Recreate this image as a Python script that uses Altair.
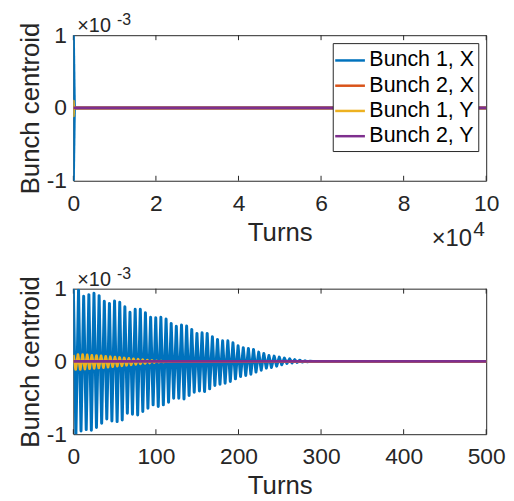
import altair as alt
import pandas as pd

# ---------------- data (centroid values in units of 1e-3) ----------------
series_names = ["Bunch 1, X", "Bunch 2, X", "Bunch 1, Y", "Bunch 2, Y"]
series_colors = ["#0072BD", "#D95319", "#EDB120", "#7E2F8E"]
series_widths = [3.0, 3.1, 2.7, 2.8]

# Bunch 1, X : oscillation extrema
b1x_peak_turns = [0, 6.3, 12.5, 18.8, 25.0, 31.2, 37.5, 43.7, 49.9, 56.2,
                  62.4, 68.6, 74.9, 81.1, 87.3, 93.6, 99.8, 106.0, 112.3, 118.5,
                  124.7, 131.0, 137.2, 143.4, 149.7, 155.9, 162.1, 168.4, 174.6, 180.8,
                  187.1, 193.3, 199.5, 205.8, 212.0, 218.2, 224.5, 230.7, 236.9, 243.2,
                  249.4, 255.6, 261.9, 268.1, 274.3, 280.6, 286.8]
b1x_peak_vals = [1.000, 0.982, 0.895, 0.918, 0.936, 0.904, 0.826, 0.798, 0.831, 0.812,
                 0.752, 0.675, 0.716, 0.716, 0.670, 0.606, 0.601, 0.606, 0.583, 0.523,
                 0.482, 0.500, 0.486, 0.440, 0.385, 0.394, 0.385, 0.339, 0.303, 0.284,
                 0.284, 0.257, 0.215, 0.188, 0.179, 0.165, 0.128, 0.110, 0.082, 0.073,
                 0.059, 0.045, 0.035, 0.025, 0.016, 0.009, 0.004]
b1x_trough_turns = [3.1, 9.3, 15.6, 21.8, 28.0, 34.3, 40.5, 46.7, 53.0, 59.2,
                    65.4, 71.6, 77.9, 84.1, 90.3, 96.6, 102.8, 109.0, 115.3, 121.5,
                    127.7, 134.0, 140.2, 146.4, 152.7, 158.9, 165.1, 171.4, 177.6, 183.8,
                    190.1, 196.3, 202.5, 208.8, 215.0, 221.2, 227.5, 233.7, 239.9, 246.2,
                    252.4, 258.6, 264.9, 271.1, 277.3, 283.6, 289.8]
b1x_trough_vals = [-1.000, -0.955, -0.937, -0.946, -0.909, -0.850, -0.790, -0.818, -0.827, -0.804,
                   -0.712, -0.726, -0.735, -0.689, -0.643, -0.597, -0.620, -0.597, -0.561, -0.506,
                   -0.506, -0.515, -0.469, -0.423, -0.405, -0.414, -0.377, -0.331, -0.313, -0.299,
                   -0.276, -0.239, -0.207, -0.193, -0.175, -0.147, -0.120, -0.092, -0.083, -0.065,
                   -0.046, -0.028, -0.020, -0.014, -0.009, -0.005, -0.002]
b1x_rest_turns = [300, 100000]
b1x_rest_vals = [0, 0]

# Bunch 1, Y : small oscillation extrema
b1y_peak_turns = [0, 5.6, 11.2, 16.8, 22.4, 28.0, 33.6, 39.2, 44.8, 50.4,
                  56.0, 61.6, 67.2, 72.8, 78.4, 84.0, 89.6, 95.2, 100.8, 106.4, 112.0]
b1y_peak_vals = [0.090, 0.095, 0.095, 0.090, 0.085, 0.080, 0.078, 0.070, 0.065, 0.060,
                 0.055, 0.048, 0.042, 0.036, 0.030, 0.024, 0.018, 0.013, 0.009, 0.005, 0.002]
b1y_trough_turns = [2.8, 8.4, 14.0, 19.6, 25.2, 30.8, 36.4, 42.0, 47.6, 53.2,
                    58.8, 64.4, 70.0, 75.6, 81.2, 86.8, 92.4, 98.0, 103.6, 109.2, 114.8]
b1y_trough_vals = [-0.110, -0.110, -0.105, -0.100, -0.095, -0.090, -0.085, -0.080, -0.072, -0.066,
                   -0.060, -0.053, -0.046, -0.040, -0.033, -0.027, -0.021, -0.015, -0.010, -0.006, -0.003]
b1y_rest_turns = [120, 100000]
b1y_rest_vals = [0, 0]

# Bunch 2 (X and Y) : flat at zero
flat_turns = [0, 100000]
flat_vals = [0, 0]

top_xticks = [0, 20000, 40000, 60000, 80000, 100000]
bot_xticks = [0, 100, 200, 300, 400, 500]
y_ticks = [-1, 0, 1]


def series_points(turn_lists, val_lists):
    t = sum(turn_lists, [])
    v = sum(val_lists, [])
    return sorted(zip(t, v))


series_data = {
    "Bunch 1, X": series_points([b1x_peak_turns, b1x_trough_turns, b1x_rest_turns],
                                [b1x_peak_vals, b1x_trough_vals, b1x_rest_vals]),
    "Bunch 2, X": series_points([flat_turns], [flat_vals]),
    "Bunch 1, Y": series_points([b1y_peak_turns, b1y_trough_turns, b1y_rest_turns],
                                [b1y_peak_vals, b1y_trough_vals, b1y_rest_vals]),
    "Bunch 2, Y": series_points([flat_turns], [flat_vals]),
}
rows = []
for name, pts in series_data.items():
    for t, v in pts:
        rows.append({"series": name, "turn": t, "value": v})
df = pd.DataFrame(rows)

# ---------------- styling ----------------
FONT = "Liberation Sans"
AX = "#262626"
W, H = 417, 147


def text_layer(txt, px, py, size):
    return alt.Chart(pd.DataFrame({"t": [txt]})).mark_text(
        align="left", baseline="alphabetic", font=FONT, fontSize=size, color=AX
    ).encode(x=alt.value(px), y=alt.value(py), text="t:N")


def panel(xmax, xticks, label_expr, with_legend, show_x_exp):
    xs = alt.Scale(domain=[0, xmax], nice=False, zero=False)
    ys = alt.Scale(domain=[-1, 1], nice=False, zero=False)
    xaxis = alt.Axis(values=xticks, labelExpr=label_expr, ticks=False, domain=False, grid=False,
                     labelFont=FONT, labelFontSize=23, labelColor=AX, labelPadding=12,
                     labelFlush=False, labelOverlap=False,
                     title="Turns", titleFont=FONT, titleFontSize=26, titleFontWeight="normal",
                     titleColor=AX, titlePadding=4)
    yaxis = alt.Axis(values=y_ticks,
                     labelExpr="replace(format(datum.value, 'd'), '\u2212', '-')",
                     ticks=False, domain=False, grid=False,
                     labelFont=FONT, labelFontSize=23, labelColor=AX, labelPadding=7,
                     labelOverlap=False,
                     title="Bunch centroid", titleFont=FONT, titleFontSize=26,
                     titleFontWeight="normal", titleColor=AX, titlePadding=3)
    x = alt.X("turn:Q", scale=xs, axis=xaxis)
    y = alt.Y("value:Q", scale=ys, axis=yaxis)
    if with_legend:
        legend = alt.Legend(orient="none", legendX=262, legendY=8, title=None,
                            symbolType="M-1.2,0L1.2,0", symbolSize=625, symbolStrokeWidth=2.5,
                            labelFont=FONT, labelFontSize=21.6, labelColor="black",
                            strokeColor=AX, fillColor="white", padding=3.5,
                            rowPadding=0.5, labelOffset=5.5)
    else:
        legend = None
    color = alt.Color("series:N", scale=alt.Scale(domain=series_names, range=series_colors),
                      legend=legend)
    tick_df = pd.DataFrame({"turn": xticks})
    layers = [
        alt.Chart(tick_df).mark_rule(color=AX, strokeWidth=1).encode(
            x=x, y=alt.value(0), y2=alt.value(5)),
        alt.Chart(tick_df).mark_rule(color=AX, strokeWidth=1).encode(
            x=x, y=alt.value(H), y2=alt.value(H - 5)),
    ]
    for name, sw in zip(series_names, series_widths):
        layers.append(
            alt.Chart(df[df.series == name]).mark_line(clip=True, strokeWidth=sw, strokeJoin="round")
            .encode(x=x, y=y, color=color)
        )
    layers.append(text_layer("\u00d710", 4, -3, 20))
    layers.append(text_layer("-3", 44, -10, 16))
    if show_x_exp:
        layers.append(text_layer("\u00d710", W - 55, H + 66, 24))
        layers.append(text_layer("4", W - 13, H + 56, 21))
    return alt.layer(*layers).properties(width=W, height=H)


top = panel(100000, top_xticks, "format(datum.value / 10000, 'd')", True, True)
bottom = panel(500, bot_xticks, "format(datum.value, 'd')", False, False)

chart = (
    alt.vconcat(top, bottom, spacing=13)
    .resolve_scale(color="independent", x="independent")
    .resolve_legend(color="independent")
    .properties(padding={"left": 9, "top": 1, "right": 0, "bottom": 0}, background="white")
    .configure_view(stroke=AX, strokeWidth=1)
)

chart.save("out.html", embed_options={"renderer": "svg", "actions": False})
